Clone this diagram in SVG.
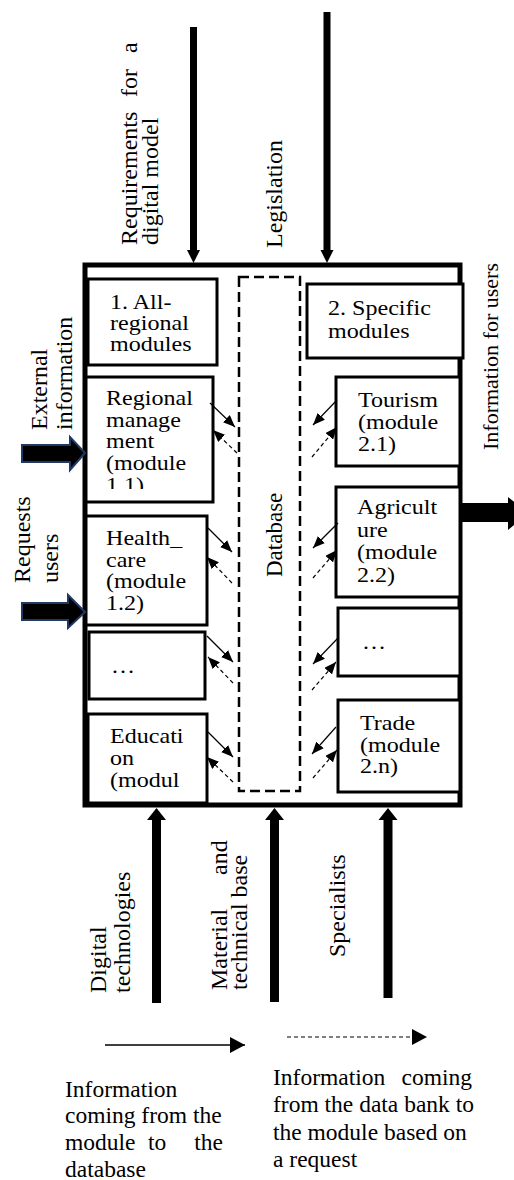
<svg xmlns="http://www.w3.org/2000/svg" width="514" height="1180" viewBox="0 0 514 1180" font-family="'Liberation Serif', 'Times New Roman', 'DejaVu Serif', serif">
<style>
text{font-family:'Liberation Serif','Times New Roman','DejaVu Serif',serif;fill:#000}
.m{font-size:21.5px}
.r{font-size:24px}
.l{font-size:23.5px}
.box{fill:#fff;stroke:#000;stroke-width:3}
.thin{stroke:#000;stroke-width:1.2;fill:none}
.dash{stroke-dasharray:4 3}
.thick{stroke:#000;fill:none}
</style>
<defs>
<marker id="ah" markerUnits="userSpaceOnUse" markerWidth="12" markerHeight="10" refX="12" refY="5" orient="auto"><path d="M0,0 L12,5 L0,10 Z" fill="#000"/></marker>
<marker id="big" markerUnits="userSpaceOnUse" markerWidth="15" markerHeight="16" refX="15" refY="8" orient="auto"><path d="M0,0 L15,8 L0,16 Z" fill="#000"/></marker>
<clipPath id="clipReg"><rect x="86" y="377" width="127" height="112"/></clipPath>
</defs>

<g id="main">
<rect x="85" y="265" width="375" height="540" fill="#fff" stroke="#000" stroke-width="5"/>
</g>

<g id="database">
<rect x="239" y="277" width="61" height="514" fill="none" stroke="#000" stroke-width="2.5" stroke-dasharray="10 5"/>
<text class="r" style="font-size:23px" transform="translate(282,577) rotate(-90)">Database</text>
</g>

<g id="n-allregional">
<rect class="box" x="88" y="279" width="129" height="86"/>
<text class="m" transform="translate(110,309) scale(1.12,1)"><tspan x="0" y="0">1. All-</tspan><tspan x="0" y="21">regional</tspan><tspan x="0" y="42">modules</tspan></text>
</g>

<g id="n-regional">
<rect class="box" x="86" y="377" width="127" height="125"/>
<g clip-path="url(#clipReg)">
<text class="m" transform="translate(106,405) scale(1.12,1)"><tspan x="0" y="0">Regional</tspan><tspan x="0" y="22">manage</tspan><tspan x="0" y="43">ment</tspan><tspan x="0" y="65">(module</tspan><tspan x="0" y="87">1.1)</tspan></text>
</g>
</g>

<g id="n-health">
<rect class="box" x="86" y="516" width="121" height="109"/>
<text class="m" transform="translate(106,545) scale(1.12,1)"><tspan x="0" y="0">Health_</tspan><tspan x="0" y="22">care</tspan><tspan x="0" y="43">(module</tspan><tspan x="0" y="65">1.2)</tspan></text>
</g>

<g id="n-dots-left">
<rect class="box" x="89" y="632" width="116" height="67"/>
<text class="m" transform="translate(111,673) scale(1.12,1)">…</text>
</g>

<g id="n-education">
<rect class="box" x="88" y="714" width="119" height="89"/>
<text class="m" transform="translate(110,743) scale(1.12,1)"><tspan x="0" y="0">Educati</tspan><tspan x="0" y="22">on</tspan><tspan x="0" y="44">(modul</tspan></text>
</g>

<g id="n-specific">
<rect class="box" x="307" y="284" width="156" height="74"/>
<text class="m" transform="translate(328,315) scale(1.12,1)"><tspan x="0" y="0">2. Specific</tspan><tspan x="0" y="23">modules</tspan></text>
</g>

<g id="n-tourism">
<rect class="box" x="336" y="377" width="124" height="89"/>
<text class="m" transform="translate(358,407) scale(1.12,1)"><tspan x="0" y="0">Tourism</tspan><tspan x="0" y="22">(module</tspan><tspan x="0" y="44">2.1)</tspan></text>
</g>

<g id="n-agriculture">
<rect class="box" x="336" y="487" width="124" height="110"/>
<text class="m" transform="translate(357,514) scale(1.12,1)"><tspan x="0" y="0">Agricult</tspan><tspan x="0" y="23">ure</tspan><tspan x="0" y="45">(module</tspan><tspan x="0" y="68">2.2)</tspan></text>
</g>

<g id="n-dots-right">
<rect class="box" x="338" y="608" width="122" height="68"/>
<text class="m" transform="translate(362,649) scale(1.12,1)">…</text>
</g>

<g id="n-trade">
<rect class="box" x="338" y="700" width="122" height="92"/>
<text class="m" transform="translate(360,730) scale(1.12,1)"><tspan x="0" y="0">Trade</tspan><tspan x="0" y="22">(module</tspan><tspan x="0" y="43">2.n)</tspan></text>
</g>

<g id="connectors">
<line class="thick" x1="193.5" y1="27" x2="193.5" y2="251" stroke-width="7"/>
<polygon points="187,250 200,250 193.5,263" fill="#000"/>
<line class="thick" x1="327" y1="12" x2="327" y2="251" stroke-width="7"/>
<polygon points="320.5,250 333.5,250 327,263" fill="#000"/>
<line class="thick" x1="156.5" y1="1003" x2="156.5" y2="818" stroke-width="9"/>
<polygon points="147,820 166,820 156.5,808" fill="#000"/>
<line class="thick" x1="274.5" y1="1002" x2="274.5" y2="818" stroke-width="9"/>
<polygon points="265,820 284,820 274.5,808" fill="#000"/>
<line class="thick" x1="388" y1="998" x2="388" y2="818" stroke-width="9"/>
<polygon points="378.5,820 397.5,820 388,808" fill="#000"/>
<path d="M22,445 H70 V437 L85,453 L70,470 V462 H22 Z" fill="#000" stroke="#1F3864" stroke-width="2"/>
<path d="M22,603 H68 V595 L85,612 L68,628 V620 H22 Z" fill="#000" stroke="#1F3864" stroke-width="2"/>
<path d="M462,503 H508 V497 L528,513 L508,530 V522 H462 Z" fill="#000"/>
<line class="thin" x1="210" y1="403" x2="235" y2="427" marker-end="url(#ah)"/>
<line class="thin dash" x1="237" y1="453" x2="213" y2="430" marker-end="url(#ah)"/>
<line class="thin" x1="208" y1="528" x2="232" y2="552" marker-end="url(#ah)"/>
<line class="thin dash" x1="232" y1="583" x2="207" y2="557" marker-end="url(#ah)"/>
<line class="thin" x1="207" y1="636" x2="233" y2="662" marker-end="url(#ah)"/>
<line class="thin dash" x1="233" y1="683" x2="208" y2="657" marker-end="url(#ah)"/>
<line class="thin" x1="208" y1="732" x2="233" y2="757" marker-end="url(#ah)"/>
<line class="thin dash" x1="233" y1="782" x2="207" y2="757" marker-end="url(#ah)"/>
<line class="thin" x1="337" y1="400" x2="313" y2="425" marker-end="url(#ah)"/>
<line class="thin dash" x1="312" y1="457" x2="337" y2="427" marker-end="url(#ah)"/>
<line class="thin" x1="338" y1="523" x2="313" y2="548" marker-end="url(#ah)"/>
<line class="thin dash" x1="313" y1="578" x2="337" y2="550" marker-end="url(#ah)"/>
<line class="thin" x1="338" y1="638" x2="313" y2="664" marker-end="url(#ah)"/>
<line class="thin dash" x1="312" y1="690" x2="336" y2="662" marker-end="url(#ah)"/>
<line class="thin" x1="336" y1="727" x2="312" y2="754" marker-end="url(#ah)"/>
<line class="thin dash" x1="313" y1="778" x2="337" y2="750" marker-end="url(#ah)"/>
<line x1="105" y1="1045" x2="245" y2="1045" stroke="#000" stroke-width="1.5" marker-end="url(#big)"/>
<line x1="287" y1="1037" x2="427" y2="1037" stroke="#000" stroke-width="1.2" stroke-dasharray="4 3" marker-end="url(#big)"/>
</g>

<g id="labels">
<text class="r" transform="translate(137,245) rotate(-90)"><tspan x="0">Requirements</tspan><tspan x="148">for</tspan><tspan x="192">a</tspan></text>
<text class="r" transform="translate(158,245) rotate(-90)">digital model</text>
<text class="r" transform="translate(282,248) rotate(-90)">Legislation</text>
<text class="r" transform="translate(47,430) rotate(-90)">External</text>
<text class="r" transform="translate(72,430) rotate(-90)">information</text>
<text class="r" transform="translate(30,583) rotate(-90)">Requests</text>
<text class="r" transform="translate(58,583) rotate(-90)">users</text>
<text class="r" style="font-size:22px" transform="translate(498,450) rotate(-90)">Information for users</text>
<text class="r" transform="translate(106,993) rotate(-90)">Digital</text>
<text class="r" transform="translate(130,993) rotate(-90)">technologies</text>
<text class="r" transform="translate(227,990) rotate(-90)"><tspan x="0">Material</tspan><tspan x="115">and</tspan></text>
<text class="r" transform="translate(247,990) rotate(-90)">technical base</text>
<text class="r" transform="translate(345,957) rotate(-90)">Specialists</text>
</g>

<g id="legend-text">
<text class="l" x="65" y="1097">Information</text>
<text class="l" x="65" y="1123">coming from the</text>
<text class="l" y="1150"><tspan x="65">module</tspan><tspan x="148">to</tspan><tspan x="223" text-anchor="end">the</tspan></text>
<text class="l" x="65" y="1177">database</text>
<text class="l" y="1085"><tspan x="273">Information</tspan><tspan x="472" text-anchor="end">coming</tspan></text>
<text class="l" x="273" y="1112">from the data bank to</text>
<text class="l" x="273" y="1140">the module based on</text>
<text class="l" x="273" y="1167">a request</text>
</g>
</svg>
